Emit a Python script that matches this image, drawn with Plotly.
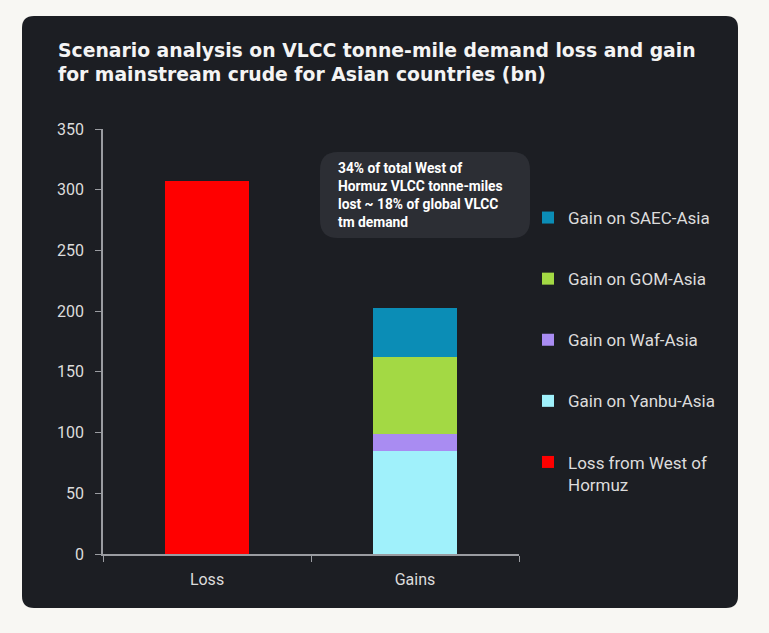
import plotly.graph_objects as go

# ---- data ----
categories = ["Loss", "Gains"]
loss_name = "Loss from West of<br>Hormuz"
loss_value = [307, None]
gain_names = ["Gain on Yanbu-Asia", "Gain on Waf-Asia", "Gain on GOM-Asia", "Gain on SAEC-Asia"]
gain_values = [84.5, 14.5, 63.5, 40.0]
gain_colors = ["#a0f1fb", "#a98cf2", "#a3d944", "#0b8db6"]
loss_color = "#ff0000"
title_lines = ["Scenario analysis on VLCC tonne-mile demand loss and gain",
               "for mainstream crude for Asian countries (bn)"]
note_text = ("34% of total West of<br>Hormuz VLCC tonne-miles<br>"
             "lost ~ 18% of global VLCC<br>tm demand")
y_ticks = [0, 50, 100, 150, 200, 250, 300, 350]

# ---- layout geometry (pixels) ----
W, H = 769, 633
L, R, T, B = 103, 250, 129, 79
PW, PH = W - L - R, H - T - B


def px(x):
    return (x - L) / PW


def py(y):
    return (H - B - y) / PH


def rounded(x0, y0, x1, y1, r):
    pts = [
        f"M{px(x0 + r)},{py(y0)}",
        f"L{px(x1 - r)},{py(y0)}",
        f"Q{px(x1)},{py(y0)} {px(x1)},{py(y0 + r)}",
        f"L{px(x1)},{py(y1 - r)}",
        f"Q{px(x1)},{py(y1)} {px(x1 - r)},{py(y1)}",
        f"L{px(x0 + r)},{py(y1)}",
        f"Q{px(x0)},{py(y1)} {px(x0)},{py(y1 - r)}",
        f"L{px(x0)},{py(y0 + r)}",
        f"Q{px(x0)},{py(y0)} {px(x0 + r)},{py(y0)}",
        "Z",
    ]
    return " ".join(pts)


n_gain = len(gain_names)
fig = go.Figure()
fig.add_trace(go.Bar(x=categories, y=loss_value, name=loss_name,
                     marker=dict(color=loss_color, line=dict(width=0)),
                     legendgroup="g0", legendrank=n_gain + 1))
for i, (n, v, c) in enumerate(zip(gain_names, gain_values, gain_colors)):
    fig.add_trace(go.Bar(x=["Gains"], y=[v], name=n,
                         marker=dict(color=c, line=dict(width=0)),
                         legendgroup=f"g{i+1}", legendrank=n_gain - i))

axis_col = "#9a9ca1"
tick_font = dict(family="Roboto, sans-serif", size=16, color="#dcdcdc")

title_annots = [
    dict(text=t, xref="paper", yref="paper",
         x=px(56), y=py(yc), xanchor="left", yanchor="middle",
         align="left", showarrow=False,
         font=dict(family="DejaVu Sans, sans-serif", size=18.8, color="#f4f4f4",
                   weight=700))
    for t, yc in zip(title_lines, [50, 74])
]

fig.update_layout(
    width=W, height=H,
    margin=dict(l=L, r=R, t=T, b=B, pad=0),
    paper_bgcolor="#f8f7f3",
    plot_bgcolor="rgba(0,0,0,0)",
    barmode="stack",
    bargap=0.6,
    showlegend=True,
    legend=dict(
        x=px(528), y=py(200), xanchor="left", yanchor="top",
        traceorder="grouped", tracegroupgap=36,
        valign="top",
        font=dict(family="Roboto, sans-serif", size=17, color="#dcdcdc"),
        bgcolor="rgba(0,0,0,0)",
    ),
    xaxis=dict(
        type="category", categoryorder="array", categoryarray=categories,
        showline=True, linecolor=axis_col, linewidth=1.5,
        ticks="outside", tickson="boundaries", ticklen=6, tickcolor=axis_col,
        tickfont=tick_font, showgrid=False, zeroline=False,
        ticklabelstandoff=10,
    ),
    yaxis=dict(
        range=[0, 350], tickvals=y_ticks,
        showline=True, linecolor=axis_col, linewidth=1.5,
        ticks="outside", ticklen=6, tickcolor=axis_col,
        tickfont=tick_font, showgrid=False, zeroline=False,
        ticklabelstandoff=8,
    ),
    shapes=[
        dict(type="path", xref="paper", yref="paper", layer="below",
             path=rounded(22, 16, 738, 608, 12),
             fillcolor="#1c1e23", line=dict(width=0)),
        dict(type="path", xref="paper", yref="paper", layer="above",
             path=rounded(320, 152, 530, 238, 18),
             fillcolor="#2c2e34", line=dict(width=0)),
    ],
    annotations=title_annots + [
        dict(text=note_text, xref="paper", yref="paper",
             x=px(336), y=py(158), xanchor="left", yanchor="top",
             align="left", showarrow=False,
             font=dict(family="Roboto, sans-serif", size=13.8, color="#ffffff",
                       weight=700)),
    ],
)

fig.write_html("out.html")
